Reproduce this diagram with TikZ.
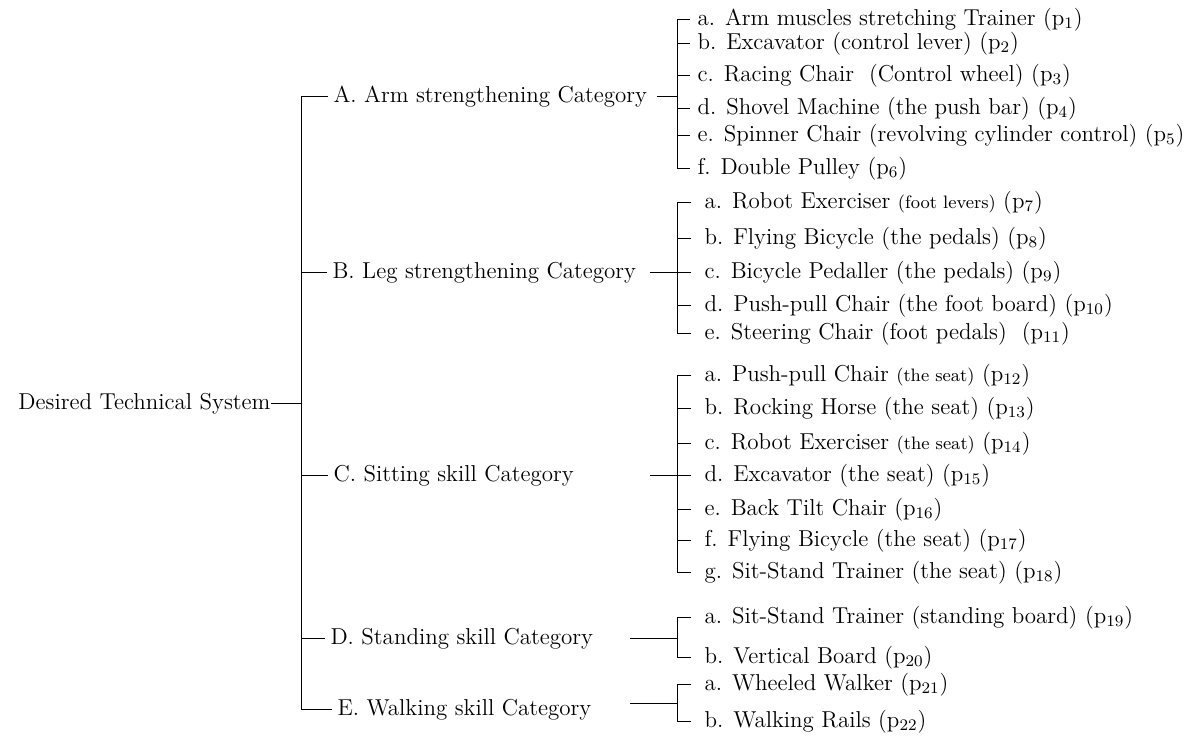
\documentclass[tikz,border=0pt]{standalone}
\usepackage{tikz}

\begin{document}
\begin{tikzpicture}[x=0.5pt, y=-0.5pt, line width=0.5pt,
    textnode/.style={inner sep=0pt, text height=9pt, text depth=3pt, font=\fontsize{11.5}{13}\selectfont},
    rootnode/.style={textnode, anchor=east},
    catnode/.style={textnode, anchor=west, inner xsep=2.5pt},
    itemnode/.style={textnode, anchor=west, inner xsep=6.5pt},
    armitem/.style={itemnode, inner xsep=3.5pt}]
    \useasboundingbox (0,0) rectangle (1192,736);

    %Nodes
    \node[rootnode]  (root) at (271,403) {Desired Technical System};
    \node[catnode]   (A)    at (328,96)  {A. Arm strengthening Category};
    \node[catnode]   (B)    at (327,272) {B. Leg strengthening Category};
    \node[catnode]   (C)    at (328,475) {C. Sitting skill Category};
    \node[catnode]   (D)    at (325,638) {D. Standing skill Category};
    \node[catnode]   (E)    at (332,709) {E. Walking skill Category};

    \node[armitem]   (A1)   at (690,19)  {a. Arm muscles stretching Trainer (p\textsubscript{1})};
    \node[armitem]   (A2)   at (690,43)  {b. Excavator (control lever) (p\textsubscript{2})};
    \node[armitem]   (A3)   at (690,75)  {c. Racing Chair\ \ (Control wheel) (p\textsubscript{3})};
    \node[armitem]   (A4)   at (690,108) {d. Shovel Machine (the push bar) (p\textsubscript{4})};
    \node[armitem]   (A5)   at (690,135) {e. Spinner Chair (revolving cylinder control) (p\textsubscript{5})};
    \node[armitem]   (A6)   at (690,168) {f. Double Pulley (p\textsubscript{6})};

    \node[itemnode]  (B1)   at (691,202) {a. Robot Exerciser {\small(foot levers)} (p\textsubscript{7})};
    \node[itemnode]  (B2)   at (691,238) {b. Flying Bicycle (the pedals) (p\textsubscript{8})};
    \node[itemnode]  (B3)   at (691,272) {c. Bicycle Pedaller (the pedals) (p\textsubscript{9})};
    \node[itemnode]  (B4)   at (691,305) {d. Push-pull Chair (the foot board) (p\textsubscript{10})};
    \node[itemnode]  (B5)   at (691,333) {e. Steering Chair (foot pedals)\ \ (p\textsubscript{11})};

    \node[itemnode]  (C1)   at (691,375) {a. Push-pull Chair {\small(the seat)} (p\textsubscript{12})};
    \node[itemnode]  (C2)   at (691,408) {b. Rocking Horse (the seat) (p\textsubscript{13})};
    \node[itemnode]  (C3)   at (691,443) {c. Robot Exerciser {\small(the seat)} (p\textsubscript{14})};
    \node[itemnode]  (C4)   at (691,475) {d. Excavator (the seat) (p\textsubscript{15})};
    \node[itemnode]  (C5)   at (691,509) {e. Back Tilt Chair (p\textsubscript{16})};
    \node[itemnode]  (C6)   at (691,540) {f. Flying Bicycle (the seat) (p\textsubscript{17})};
    \node[itemnode]  (C7)   at (691,572) {g. Sit-Stand Trainer (the seat) (p\textsubscript{18})};

    \node[itemnode]  (D1)   at (691,617) {a. Sit-Stand Trainer (standing board) (p\textsubscript{19})};
    \node[itemnode]  (D2)   at (691,657) {b. Vertical Board (p\textsubscript{20})};

    \node[itemnode]  (E1)   at (691,684) {a. Wheeled Walker (p\textsubscript{21})};
    \node[itemnode]  (E2)   at (691,721) {b. Walking Rails (p\textsubscript{22})};

    %Joints
    \coordinate (tA) at (301,96);
    \coordinate (tE) at (301,709);
    \coordinate (sA) at (657,96);
    \coordinate (sB) at (650,272);
    \coordinate (sC) at (650,475);
    \coordinate (sD) at (630,638);
    \coordinate (sE) at (630,703);
    \coordinate (bA) at (677,96);
    \coordinate (bB) at (677,272);
    \coordinate (bC) at (677,475);
    \coordinate (bD) at (677,638);
    \coordinate (bE) at (677,703);

    %Lines
    \draw (root.east) -- (root.east -| tA);
    \draw (A.west) -- (tA) -- (tE) -- (E.west);
    \draw (B.west -| tA) -- (B.west);
    \draw (C.west -| tA) -- (C.west);
    \draw (D.west -| tA) -- (D.west);

    \draw (sA) -- (bA);
    \draw (A1.west) -- (A1.west -| bA) -- (A6.west -| bA) -- (A6.west);
    \draw (A2.west -| bA) -- (A2.west);
    \draw (A3.west -| bA) -- (A3.west);
    \draw (A4.west -| bA) -- (A4.west);
    \draw (A5.west -| bA) -- (A5.west);

    \draw (sB) -- (bB);
    \draw (B1.west) -- (B1.west -| bB) -- (B5.west -| bB) -- (B5.west);
    \draw (B2.west -| bB) -- (B2.west);
    \draw (B3.west -| bB) -- (B3.west);
    \draw (B4.west -| bB) -- (B4.west);

    \draw (sC) -- (bC);
    \draw (C1.west) -- (C1.west -| bC) -- (C7.west -| bC) -- (C7.west);
    \draw (C2.west -| bC) -- (C2.west);
    \draw (C3.west -| bC) -- (C3.west);
    \draw (C4.west -| bC) -- (C4.west);
    \draw (C5.west -| bC) -- (C5.west);
    \draw (C6.west -| bC) -- (C6.west);

    \draw (sD) -- (bD);
    \draw (D1.west) -- (D1.west -| bD) -- (D2.west -| bD) -- (D2.west);

    \draw (sE) -- (bE);
    \draw (E1.west) -- (E1.west -| bE) -- (E2.west -| bE) -- (E2.west);
\end{tikzpicture}
\end{document}
